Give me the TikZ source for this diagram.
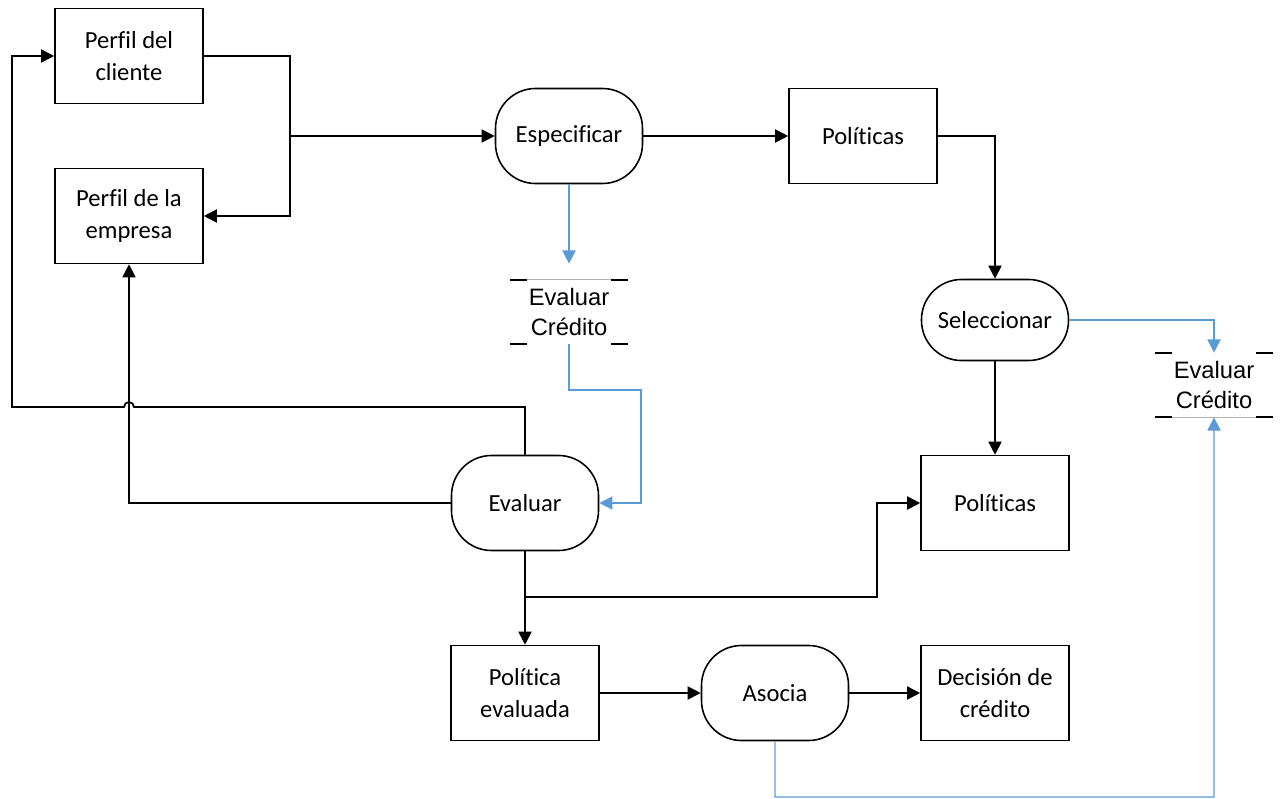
\documentclass[tikz,border=0pt]{standalone}
\usepackage{fontspec}
\setmainfont{Carlito}[Ligatures=NoCommon]
\newfontfamily\arial{Liberation Sans}
\usepackage{tikz}
\usetikzlibrary{arrows.meta, positioning}
\definecolor{azul}{RGB}{91,155,213}
\tikzstyle{proceso} = [rectangle, minimum width=2.96cm, minimum height=1.9cm, text centered, align=center, draw=black, line width=0.9pt, font=\fontsize{14}{18}\selectfont]
\tikzstyle{accion} = [rectangle, rounded corners=0.8cm, minimum width=2.94cm, minimum height=1.9cm, text centered, draw=black, line width=0.9pt, font=\fontsize{14}{18}\selectfont]
\tikzstyle{marca} = [rectangle, minimum width=2.36cm, minimum height=1.28cm, inner sep=0pt, align=center, font=\arial\fontsize{13.5}{17}\selectfont]
\tikzstyle{arrow} = [line width=1pt, -{Triangle[width=7.5pt, length=7.5pt]}]
\tikzstyle{arrowazul} = [azul, line width=0.8pt, -{Triangle[width=7.5pt, length=7.5pt]}]
\newcommand{\guiones}[1]{% guiones de las esquinas del almacen
	\draw [line width=1pt] (#1.north west) -- ++(0.34,0);
	\draw [line width=1pt] (#1.north east) -- ++(-0.34,0);
	\draw [line width=1pt] (#1.south west) -- ++(0.34,0);
	\draw [line width=1pt] (#1.south east) -- ++(-0.34,0);}

\begin{document}
\begin{tikzpicture}[node distance=1cm]
		\useasboundingbox (0,0) rectangle (25.66,-15.96);
		\node (cliente) [proceso] at (2.58,-1.12) {Perfil del\\cliente};
		\node (empresa) [proceso, below of=cliente, yshift=-2.2cm] {Perfil de la\\empresa};
		\node (especificar) [accion, right of=cliente, xshift=7.8cm, yshift=-1.6cm] {Especificar};
		\node (politicas1) [proceso, right of=especificar, xshift=4.88cm] {Políticas};
		\node (seleccionar) [accion, below of=politicas1, xshift=2.64cm, yshift=-2.68cm, minimum height=1.62cm] {Seleccionar};
		\node (politicas2) [proceso, below of=seleccionar, yshift=-2.66cm] {Políticas};
		\node (evaluar) [accion, left of=politicas2, xshift=-8.4cm] {Evaluar};
		\node (evaluada) [proceso, below of=evaluar, yshift=-2.8cm] {Política\\evaluada};
		\node (asocia) [accion, right of=evaluada, xshift=4cm] {Asocia};
		\node (decision) [proceso, right of=asocia, xshift=3.4cm] {Decisión de\\crédito};
		\node (marca1) [marca, below of=especificar, yshift=-2.52cm] {Evaluar\\Crédito};
		\node (marca2) [marca, right of=seleccionar, xshift=3.38cm, yshift=-1.3cm] {Evaluar\\Crédito};
		\guiones{marca1}
		\guiones{marca2}
		\draw [gray!60, line width=0.4pt] ([xshift=0.34cm]marca1.north west) -- ([xshift=-0.34cm]marca1.north east);
		\draw [gray!60, line width=0.4pt] ([xshift=0.34cm]marca2.south west) -- ([xshift=-0.34cm]marca2.south east);
		\coordinate (bus) at (5.8,-2.72);
		\coordinate (m1) at (12.82,-7.8);
		\coordinate (retorno) at (0.24,-8.14);
		\coordinate (rama) at (10.5,-11.94);
		\coordinate (codo) at (17.54,-11.94);
		\coordinate (fondo) at (15.5,-15.94);
		\draw [arrow] (cliente.east) -| (bus) |- (empresa.east);
		\draw [arrow] (bus) -- (especificar.west);
		\draw [arrow] (especificar) -- (politicas1);
		\draw [arrow] (politicas1.east) -| (seleccionar.north);
		\draw [arrow] (seleccionar) -- (politicas2);
		\draw [arrowazul] (seleccionar.east) -| (marca2.north);
		\draw [arrowazul, shorten >=0.32cm] (especificar.south) -- (marca1.north);
		\draw [arrowazul] (marca1.south) |- (m1) |- (evaluar.east);
		\draw [arrow] (evaluar.north) |- (2.68,-8.14) arc[start angle=0, end angle=180, radius=0.1] -- (retorno) |- (cliente.west);
		\draw [arrow] (evaluar.west) -| (empresa.south);
		\draw [arrow] (evaluar) -- (evaluada);
		\draw [arrow] (rama) -- (codo) |- (politicas2.west);
		\draw [arrow] (evaluada) -- (asocia);
		\draw [arrow] (asocia) -- (decision);
		\draw [arrowazul] (asocia.south) -- (fondo) -| (marca2.south);
	\end{tikzpicture}
\end{document}
